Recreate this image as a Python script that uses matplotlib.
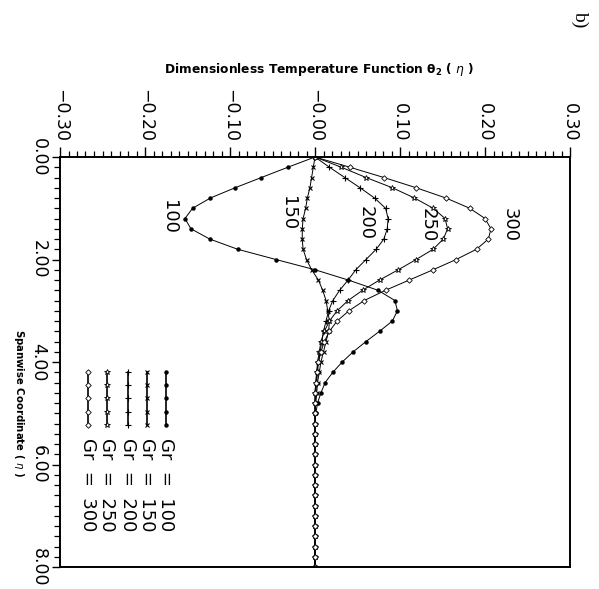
import matplotlib
matplotlib.use("Agg")
import matplotlib.pyplot as plt
from matplotlib.ticker import MultipleLocator, FixedLocator

# spanwise coordinate eta, one sample every 0.2
eta = [0.0, 0.2, 0.4, 0.6, 0.8, 1.0, 1.2, 1.4, 1.6, 1.8,
       2.0, 2.2, 2.4, 2.6, 2.8, 3.0, 3.2, 3.4, 3.6, 3.8,
       4.0, 4.2, 4.4, 4.6, 4.8, 5.0, 5.2, 5.4, 5.6, 5.8,
       6.0, 6.2, 6.4, 6.6, 6.8, 7.0, 7.2, 7.4, 7.6, 7.8, 8.0]

# theta_2(eta) for each Grashof number
gr100 = [0.000, -0.032, -0.063, -0.094, -0.123, -0.144, -0.153, -0.146, -0.124, -0.091,
         -0.046, 0.000, 0.039, 0.074, 0.094, 0.097, 0.091, 0.076, 0.060, 0.045,
         0.032, 0.021, 0.012, 0.007, 0.003, 0.001, 0.000, 0.000, 0.000, 0.000,
         0.000, 0.000, 0.000, 0.000, 0.000, 0.000, 0.000, 0.000, 0.000, 0.000, 0.000]
gr150 = [0.000, -0.002, -0.004, -0.006, -0.009, -0.011, -0.014, -0.015, -0.015, -0.014,
         -0.010, -0.004, 0.004, 0.009, 0.013, 0.015, 0.017, 0.016, 0.013, 0.010,
         0.007, 0.005, 0.003, 0.002, 0.001, 0.000, 0.000, 0.000, 0.000, 0.000,
         0.000, 0.000, 0.000, 0.000, 0.000, 0.000, 0.000, 0.000, 0.000, 0.000, 0.000]
gr200 = [0.000, 0.017, 0.035, 0.053, 0.070, 0.083, 0.086, 0.085, 0.081, 0.072,
         0.060, 0.048, 0.039, 0.029, 0.021, 0.016, 0.013, 0.010, 0.008, 0.006,
         0.004, 0.003, 0.002, 0.001, 0.000, 0.000, 0.000, 0.000, 0.000, 0.000,
         0.000, 0.000, 0.000, 0.000, 0.000, 0.000, 0.000, 0.000, 0.000, 0.000, 0.000]
gr250 = [0.000, 0.031, 0.060, 0.091, 0.117, 0.139, 0.153, 0.156, 0.151, 0.139,
         0.119, 0.098, 0.076, 0.056, 0.039, 0.026, 0.017, 0.011, 0.007, 0.005,
         0.003, 0.002, 0.001, 0.000, 0.000, 0.000, 0.000, 0.000, 0.000, 0.000,
         0.000, 0.000, 0.000, 0.000, 0.000, 0.000, 0.000, 0.000, 0.000, 0.000, 0.000]
gr300 = [0.000, 0.041, 0.081, 0.119, 0.154, 0.182, 0.200, 0.207, 0.204, 0.190,
         0.166, 0.139, 0.111, 0.083, 0.058, 0.040, 0.026, 0.017, 0.011, 0.007,
         0.004, 0.002, 0.001, 0.000, 0.000, 0.000, 0.000, 0.000, 0.000, 0.000,
         0.000, 0.000, 0.000, 0.000, 0.000, 0.000, 0.000, 0.000, 0.000, 0.000, 0.000]

gr_values = [100, 150, 200, 250, 300]
curves = [gr100, gr150, gr200, gr250, gr300]

theta_ticks = [-0.30, -0.20, -0.10, 0.00, 0.10, 0.20, 0.30]
theta_ticklabels = ["\u22120.30", "\u22120.20", "\u22120.10", "\u22120.00", "0.10", "0.20", "0.30"]
eta_ticks = [0.0, 2.0, 4.0, 6.0, 8.0]
eta_ticklabels = ["0.00", "2.00", "4.00", "6.00", "8.00"]

# in-plot curve tags: (theta, eta) of each number
tag_pos = [(-0.172, 1.17), (-0.032, 1.09), (0.060, 1.29), (0.133, 1.33), (0.229, 1.33)]

styles = [
    dict(marker="o", ms=2.2, mfc="black", mec="black"),
    dict(marker="x", ms=3.2, mfc="none", mec="black", mew=0.8),
    dict(marker="+", ms=4.2, mfc="none", mec="black", mew=0.8),
    dict(marker="*", ms=4.2, mfc="white", mec="black", mew=0.6),
    dict(marker="D", ms=2.8, mfc="white", mec="black", mew=0.6),
]

num_font = dict(family="DejaVu Sans", fontsize=12.5)

fig = plt.figure(figsize=(5.99, 5.89), dpi=100)
ax = fig.add_axes([60 / 599, 1 - 567 / 589, 510 / 599, 410 / 589])

for vals, st in zip(curves, styles):
    ax.plot(vals, eta, color="black", lw=0.7, **st)

ax.set_xlim(-0.3, 0.3)
ax.set_ylim(8, 0)

# theta axis runs along the top
ax.xaxis.tick_top()
ax.xaxis.set_major_locator(FixedLocator(theta_ticks))
ax.xaxis.set_minor_locator(MultipleLocator(0.01))
ax.set_xticklabels(theta_ticklabels, rotation=-90, **num_font)
ax.yaxis.set_major_locator(FixedLocator(eta_ticks))
ax.yaxis.set_minor_locator(MultipleLocator(0.2))
ax.set_yticklabels(eta_ticklabels, rotation=-90, va="center", **num_font)

ax.tick_params(axis="x", which="major", direction="out", length=7, width=1.0, pad=4)
ax.tick_params(axis="x", which="minor", direction="out", length=4, width=0.9)
ax.tick_params(axis="y", which="major", direction="out", length=6, width=1.0, pad=3)
ax.tick_params(axis="y", which="minor", direction="out", length=4, width=0.9)
for sp in ax.spines.values():
    sp.set_linewidth(1.4)

for g, (tx, ty) in zip(gr_values, tag_pos):
    ax.text(tx, ty, str(g), rotation=-90, ha="center", va="center",
            family="DejaVu Sans", fontsize=13)

# hand-built legend, turned like the rest of the text
leg_x = [0.208, 0.171, 0.133, 0.092, 0.055]
for g, st, lx in zip(gr_values, styles, leg_x):
    ax.plot([lx] * 5, [0.476, 0.4435, 0.411, 0.3785, 0.346], transform=ax.transAxes,
            color="black", lw=1.2, clip_on=False, **st)
    ax.text(lx, 0.315, "Gr  =  %d" % g, transform=ax.transAxes, rotation=-90,
            ha="center", va="top", family="DejaVu Sans", fontsize=13)

fig.text(0.532, 1 - 70 / 589,
         r"Dimensionless Temperature Function $\mathbf{\theta_2}$ ( $\eta$ )",
         ha="center", va="center", fontsize=8.8, fontweight="bold", family="DejaVu Sans")
fig.text(19 / 599, 1 - 403 / 589, r"Spanwise Coordinate ( $\eta$ )",
         rotation=-90, ha="center", va="center", fontsize=7.3, fontweight="bold",
         family="DejaVu Sans")
fig.text(580 / 599, 1 - 19 / 589, "b)", rotation=-90, ha="center", va="center",
         fontsize=14, family="Liberation Serif")

fig.savefig("out.png", dpi=100)
